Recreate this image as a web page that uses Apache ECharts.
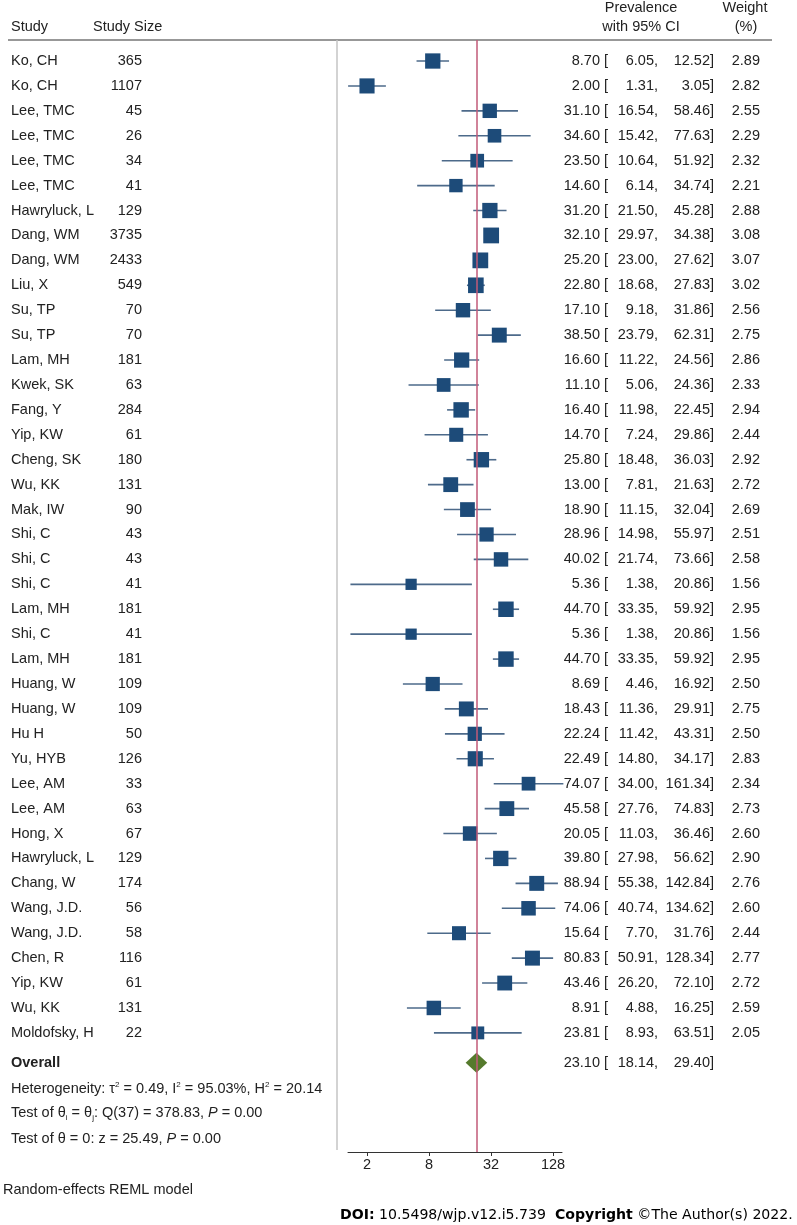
<!DOCTYPE html>
<html><head><meta charset="utf-8">
<script src="https://cdn.jsdelivr.net/npm/echarts@6/dist/echarts.min.js"></script>
<style>html,body{margin:0;padding:0;background:#fff}#c{width:797px;height:1225px}</style>
</head><body><div id="c"></div>
<script>
const studies = ['Ko, CH','Ko, CH','Lee, TMC','Lee, TMC','Lee, TMC','Lee, TMC','Hawryluck, L','Dang, WM','Dang, WM','Liu, X',
  'Su, TP','Su, TP','Lam, MH','Kwek, SK','Fang, Y','Yip, KW','Cheng, SK','Wu, KK','Mak, IW','Shi, C',
  'Shi, C','Shi, C','Lam, MH','Shi, C','Lam, MH','Huang, W','Huang, W','Hu H','Yu, HYB','Lee, AM',
  'Lee, AM','Hong, X','Hawryluck, L','Chang, W','Wang, J.D.','Wang, J.D.','Chen, R','Yip, KW','Wu, KK','Moldofsky, H'];
const sizes = [365,1107,45,26,34,41,129,3735,2433,549,
  70,70,181,63,284,61,180,131,90,43,
  43,41,181,41,181,109,109,50,126,33,
  63,67,129,174,56,58,116,61,131,22];
const estimates = [8.70,2.00,31.10,34.60,23.50,14.60,31.20,32.10,25.20,22.80,
  17.10,38.50,16.60,11.10,16.40,14.70,25.80,13.00,18.90,28.96,
  40.02,5.36,44.70,5.36,44.70,8.69,18.43,22.24,22.49,74.07,
  45.58,20.05,39.80,88.94,74.06,15.64,80.83,43.46,8.91,23.81];
const lowers = [6.05,1.31,16.54,15.42,10.64,6.14,21.50,29.97,23.00,18.68,
  9.18,23.79,11.22,5.06,11.98,7.24,18.48,7.81,11.15,14.98,
  21.74,1.38,33.35,1.38,33.35,4.46,11.36,11.42,14.80,34.00,
  27.76,11.03,27.98,55.38,40.74,7.70,50.91,26.20,4.88,8.93];
const uppers = [12.52,3.05,58.46,77.63,51.92,34.74,45.28,34.38,27.62,27.83,
  31.86,62.31,24.56,24.36,22.45,29.86,36.03,21.63,32.04,55.97,
  73.66,20.86,59.92,20.86,59.92,16.92,29.91,43.31,34.17,161.34,
  74.83,36.46,56.62,142.84,134.62,31.76,128.34,72.10,16.25,63.51];
const weights = [2.89,2.82,2.55,2.29,2.32,2.21,2.88,3.08,3.07,3.02,
  2.56,2.75,2.86,2.33,2.94,2.44,2.92,2.72,2.69,2.51,
  2.58,1.56,2.95,1.56,2.95,2.50,2.75,2.50,2.83,2.34,
  2.73,2.60,2.90,2.76,2.60,2.44,2.77,2.72,2.59,2.05];
const overallLabel = ['Overall'];
const overallEst = [23.10];
const overallLo = [18.14];
const overallHi = [29.40];
const xTicks = [2, 8, 32, 128];

const OVERALL_ROW = 40.2;
const FONT = 'Liberation Sans, Arial, sans-serif';
const FS = 14.5;
const TXT = '#222';

const chart = echarts.init(document.getElementById('c'), null, {renderer: 'canvas'});

function txt(x, y, s, align, extra) {
  return {type: 'text', x: x, y: y, style: Object.assign({text: s, fill: TXT, font: FS + 'px ' + FONT, align: align || 'left', verticalAlign: 'middle'}, extra || {})};
}

function ciCols(y, e, lo, hi, w) {
  const arr = [
    txt(600, y, e.toFixed(2), 'right'),
    txt(604, y, '[', 'left'),
    txt(658, y, lo.toFixed(2) + ',', 'right'),
    txt(714, y, hi.toFixed(2) + ']', 'right')
  ];
  if (w !== null) arr.push(txt(760, y, w.toFixed(2), 'right'));
  return arr;
}

const rowData = studies.map((_, i) => [estimates[i], lowers[i], uppers[i], i, weights[i]]);

const option = {
  animation: false,
  backgroundColor: '#fff',
  grid: {left: 348, width: 214, top: 40, height: 1112, containLabel: false},
  xAxis: {
    type: 'log', logBase: 2, min: 1.307, max: 156.5, position: 'bottom',
    axisLine: {show: true, onZero: false, lineStyle: {color: '#333', width: 1}},
    axisTick: {show: true, length: 4, lineStyle: {color: '#333'}, customValues: xTicks},
    axisLabel: {show: true, customValues: xTicks, color: TXT, fontSize: FS, fontFamily: FONT, margin: 5},
    splitLine: {show: false}, minorTick: {show: false}
  },
  yAxis: {type: 'value', inverse: true, min: -0.843, max: 43.78, show: false},
  series: [
    {
      type: 'custom', name: 'studies', clip: false,
      data: rowData,
      encode: {x: [0, 1, 2], y: 3},
      renderItem: function (params, api) {
        const i = params.dataIndex;
        const est = api.value(0), lo = api.value(1), hi = api.value(2), row = api.value(3), w = api.value(4);
        const pE = api.coord([est, row]);
        const pL = api.coord([lo, row]);
        const pH = api.coord([hi, row]);
        const s = 9 * Math.sqrt(w);
        const y = pE[1];
        const children = [
          {type: 'line', shape: {x1: pL[0], y1: y, x2: pH[0], y2: y}, style: {stroke: '#4d6a8a', lineWidth: 1.6}},
          {type: 'rect', shape: {x: pE[0] - s / 2, y: y - s / 2, width: s, height: s}, style: {fill: '#1d4b79'}},
          txt(11, y, studies[i], 'left'),
          txt(142, y, String(sizes[i]), 'right')
        ].concat(ciCols(y, estimates[i], lowers[i], uppers[i], weights[i]));
        return {type: 'group', children: children};
      },
      markLine: {
        silent: true, symbol: ['none', 'none'], label: {show: false},
        lineStyle: {color: '#c25a78', width: 1.5, type: 'solid'},
        data: [{xAxis: overallEst[0]}]
      },
      z: 3
    },
    {
      type: 'custom', name: 'overall', clip: false,
      data: [[overallEst[0], overallLo[0], overallHi[0], OVERALL_ROW]],
      encode: {x: [0, 1, 2], y: 3},
      renderItem: function (params, api) {
        const row = api.value(3);
        const pE = api.coord([api.value(0), row]);
        const pL = api.coord([api.value(1), row]);
        const pH = api.coord([api.value(2), row]);
        const y = pE[1], h = 10;
        return {type: 'group', children: [
          {type: 'polygon', shape: {points: [[pL[0], y], [pE[0], y - h], [pH[0], y], [pE[0], y + h]]}, style: {fill: '#557a2c'}},
          txt(11, y, overallLabel[0], 'left', {font: 'bold ' + FS + 'px ' + FONT})
        ].concat(ciCols(y, overallEst[0], overallLo[0], overallHi[0], null))};
      },
      z: 4
    }
  ],
  graphic: [
    {type: 'line', shape: {x1: 8, y1: 40, x2: 772, y2: 40}, style: {stroke: '#333', lineWidth: 1.2}},
    {type: 'line', shape: {x1: 337, y1: 40, x2: 337, y2: 1150}, style: {stroke: '#c4c4c4', lineWidth: 1.5}},
    txt(11, 27, 'Study'),
    txt(93, 27, 'Study Size'),
    txt(641, 8, 'Prevalence', 'center'),
    txt(641, 27, 'with 95% CI', 'center'),
    txt(745, 8, 'Weight', 'center'),
    txt(746, 27, '(%)', 'center'),
    {type: 'text', x: 11, y: 1089, style: {
      text: '{n|Heterogeneity: τ}{sup|2}{n| = 0.49, I}{sup|2}{n| = 95.03%, H}{sup|2}{n| = 20.14}',
      verticalAlign: 'middle', fill: TXT,
      rich: {n: {fontSize: FS, fontFamily: FONT, color: TXT, lineHeight: 18},
             sup: {fontSize: 8, fontFamily: FONT, color: TXT, verticalAlign: 'top', lineHeight: 18, padding: [1, 0, 0, 0]}}
    }},
    {type: 'text', x: 11, y: 1113, style: {
      text: '{n|Test of θ}{sub|i}{n| = θ}{sub|j}{n|: Q(37) = 378.83, }{it|P}{n| = 0.00}',
      verticalAlign: 'middle', fill: TXT,
      rich: {n: {fontSize: FS, fontFamily: FONT, color: TXT, lineHeight: 18},
             sub: {fontSize: 8, fontFamily: FONT, color: TXT, verticalAlign: 'bottom', lineHeight: 18},
             it: {fontSize: FS, fontFamily: FONT, fontStyle: 'italic', color: TXT, lineHeight: 18}}
    }},
    {type: 'text', x: 11, y: 1139, style: {
      text: '{n|Test of θ = 0: z = 25.49, }{it|P}{n| = 0.00}',
      verticalAlign: 'middle', fill: TXT,
      rich: {n: {fontSize: FS, fontFamily: FONT, color: TXT, lineHeight: 18},
             it: {fontSize: FS, fontFamily: FONT, fontStyle: 'italic', color: TXT, lineHeight: 18}}
    }},
    txt(3, 1190, 'Random-effects REML model'),
    {type: 'text', x: 340, y: 1215, style: {
      text: '{b|DOI:}{n| 10.5498/wjp.v12.i5.739  }{b|Copyright}{n| ©The Author(s) 2022.}',
      verticalAlign: 'middle', fill: '#000',
      rich: {b: {fontSize: 14.1, fontFamily: 'DejaVu Sans', fontWeight: 'bold', color: '#000'},
             n: {fontSize: 14.1, fontFamily: 'DejaVu Sans', color: '#000'}}
    }}
  ]
};
chart.setOption(option);
</script>
</body></html>
